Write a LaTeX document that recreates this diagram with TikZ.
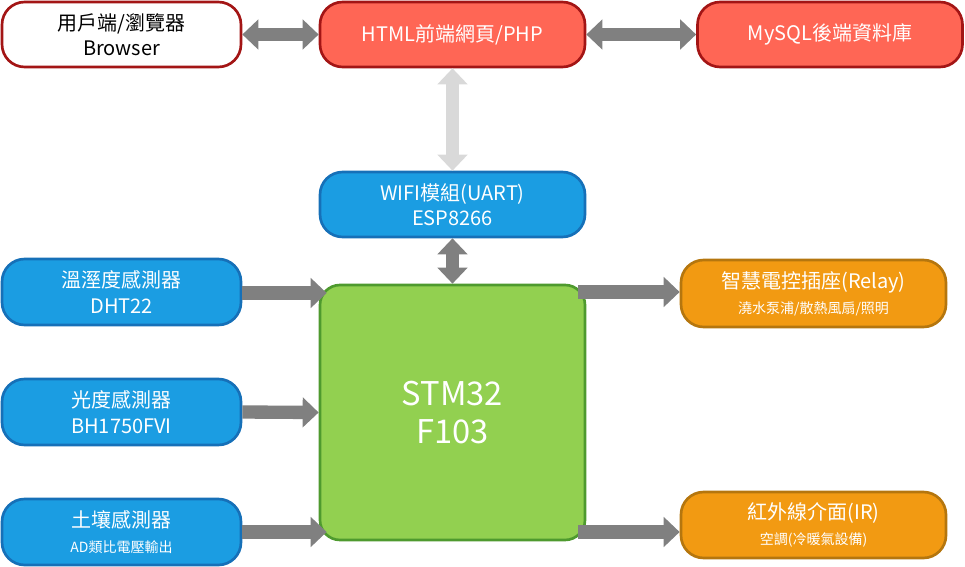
\documentclass[tikz,border=0pt]{standalone}
\usepackage{fontspec}
\setmainfont{Noto Sans CJK TC}
\usetikzlibrary{arrows.meta,calc}
\definecolor{redfill}{HTML}{FF6655}
\definecolor{redline}{HTML}{A31515}
\definecolor{bluefill}{HTML}{1B9DE2}
\definecolor{blueline}{HTML}{1670B8}
\definecolor{orangefill}{HTML}{F29A12}
\definecolor{orangeline}{HTML}{B5760E}
\definecolor{greenfill}{HTML}{92D050}
\definecolor{greenline}{HTML}{4E9A2E}
\definecolor{arrowgray}{HTML}{808080}
\definecolor{arrowlight}{HTML}{D9D9D9}
\tikzset{
  box/.style={draw, line width=2pt, rounded corners=17pt, align=center,
    inner sep=0pt, font=\fontsize{15}{19}\selectfont, text=white},
  sensorbox/.style={box, fill=bluefill, draw=blueline, minimum width=179.25pt, minimum height=49.5pt},
  wide/.style={minimum width=198.75pt, minimum height=48.75pt},
  blk/.style={line width=10pt, draw=arrowgray, -{Triangle[width=22pt,length=12pt]}},
  dblblk/.style={blk, {Triangle[width=22pt,length=12pt]}-{Triangle[width=22pt,length=12pt]}},
}
\begin{document}
\begin{tikzpicture}[x=0.75pt,y=-0.75pt]
\useasboundingbox (0,0) rectangle (965,567);
% top row
\node[box, wide, fill=white, draw=redline, text=black, minimum width=179.25pt] (browser) at (121.5,34.5) {用戶端/瀏覽器\\Browser};
\node[box, wide, fill=redfill, draw=redline] (html) at (452.5,34.5) {HTML前端網頁/PHP};
\node[box, wide, fill=redfill, draw=redline] (mysql) at (830,34.5) {MySQL後端資料庫};
% wifi
\node[box, wide, fill=bluefill, draw=blueline] (wifi) at (452.5,204.5) {WIFI模組(UART)\\ESP8266};
% sensors
\node[sensorbox] (temp) at (121.5,292) {溫溼度感測器\\DHT22};
\node[sensorbox] (light) at (121.5,412) {光度感測器\\BH1750FVI};
\node[sensorbox] (soil) at (121.5,532) {土壤感測器\\{\fontsize{10.5}{13}\selectfont AD類比電壓輸出}};
% MCU
\node[box, rounded corners=15pt, fill=greenfill, draw=greenline, minimum width=198.75pt, minimum height=191.25pt,
  font=\fontsize{24.5}{28.5}\selectfont] (stm) at (452.5,412.5) {STM32\\F103};
% outputs
\node[box, wide, fill=orangefill, draw=orangeline, minimum height=50.25pt] (relay) at (813.5,293.5) {智慧電控插座(Relay)\\{\fontsize{10.5}{13}\selectfont 澆水泵浦/散熱風扇/照明}};
\node[box, wide, fill=orangefill, draw=orangeline, minimum height=49.5pt] (ir) at (813.5,525) {紅外線介面(IR)\\{\fontsize{10.5}{13}\selectfont 空調(冷暖氣設備)}};
% connectors
\draw[dblblk] (browser.east) -- (html.west);
\draw[dblblk] (html.east) -- (mysql.west);
\draw[dblblk, draw=arrowlight] (html.south) -- (wifi.north);
\draw[dblblk] (wifi.south) -- (stm.north);
\coordinate (t1) at ($(stm.west |- temp.east)+(8,1)$);
\draw[blk] ($(temp.east)+(0,1)$) -- (t1);
\draw[blk] (light.east) -- (stm.west);
\coordinate (s1) at ($(stm.west |- soil.east)+(8,0)$);
\draw[blk] (soil.east) -- (s1);
\coordinate (r0) at ($(stm.east |- relay.west)+(-8,-1.5)$);
\draw[blk] (r0) -- (r0 -| relay.west);
\coordinate (i0) at ($(stm.east |- soil.east)+(-8,0)$);
\draw[blk] (i0) -- (i0 -| ir.west);
\end{tikzpicture}
\end{document}
